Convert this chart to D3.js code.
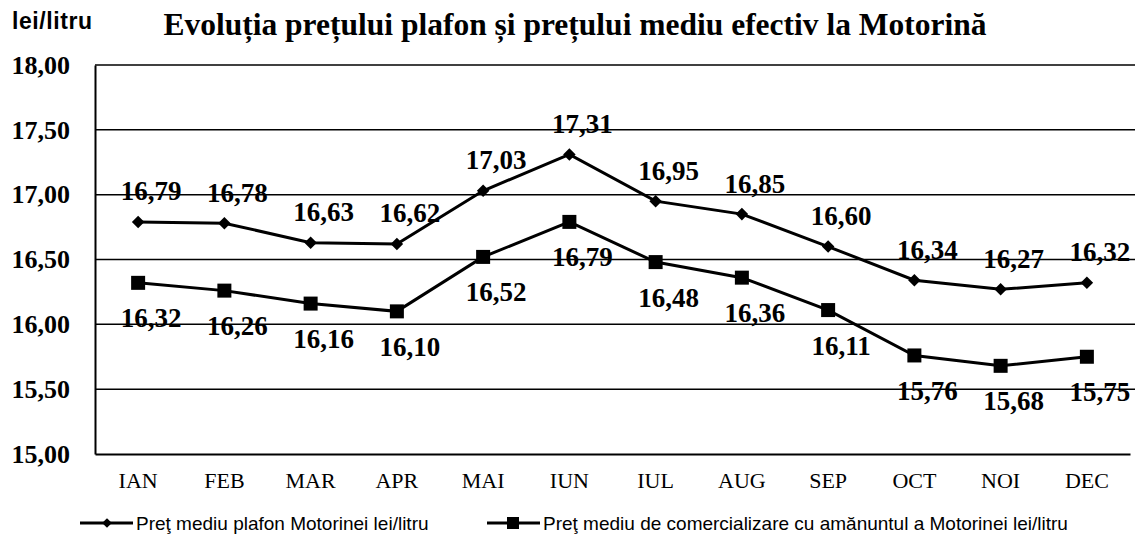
<!DOCTYPE html>
<html>
<head>
<meta charset="utf-8">
<script src="https://cdn.jsdelivr.net/npm/d3@7"></script>
<style>
  body { margin: 0; background: #fff; }
  svg { display: block; }
</style>
</head>
<body>
<div id="chart"></div>
<script>
// months on the x axis
const months = ["IAN", "FEB", "MAR", "APR", "MAI", "IUN", "IUL", "AUG", "SEP", "OCT", "NOI", "DEC"];
// pret mediu plafon (diamonds)
const plafon = [16.79, 16.78, 16.63, 16.62, 17.03, 17.31, 16.95, 16.85, 16.60, 16.34, 16.27, 16.32];
// pret mediu de comercializare cu amanuntul (squares)
const mediu = [16.32, 16.26, 16.16, 16.10, 16.52, 16.79, 16.48, 16.36, 16.11, 15.76, 15.68, 15.75];
const yTicks = [15, 15.5, 16, 16.5, 17, 17.5, 18];
const seriesNames = [
    "Preţ mediu plafon Motorinei lei/litru",
    "Preţ mediu de comercializare cu amănuntul a Motorinei lei/litru"
];

const width = 1139, height = 542;
const margin = {top: 65, right: 9, bottom: 88, left: 95};

const svg = d3.select("#chart").append("svg")
    .attr("width", width)
    .attr("height", height);

const x = d3.scaleBand()
    .domain(months)
    .range([margin.left, width - margin.right]);

const y = d3.scaleLinear()
    .domain([15, 18])
    .range([height - margin.bottom, margin.top]);

const fmt = v => d3.format(".2f")(v).replace(".", ",");
const serif = "'Liberation Serif', 'Times New Roman', serif";
const sans = "'Liberation Sans', Arial, sans-serif";

// gridlines
svg.append("g").selectAll("line")
    .data(yTicks.filter(d => d > 15))
    .enter().append("line")
    .attr("x1", margin.left)
    .attr("x2", width - margin.right + 5)
    .attr("y1", d => y(d))
    .attr("y2", d => y(d))
    .attr("stroke", "#000")
    .attr("stroke-width", 1.5);

// y axis
const yAxis = svg.append("g")
    .attr("transform", "translate(" + margin.left + ",0)")
    .call(d3.axisLeft(y).tickValues(yTicks).tickFormat(fmt).tickSize(0).tickPadding(25));
yAxis.select(".domain").attr("stroke", "#000").attr("stroke-width", 2);
yAxis.selectAll("text")
    .attr("font-family", serif)
    .attr("font-weight", "bold")
    .attr("font-size", 26)
    .attr("fill", "#000");

// x axis
const xAxis = svg.append("g")
    .attr("transform", "translate(0," + y(15) + ")")
    .call(d3.axisBottom(x).tickSize(0).tickPadding(18));
xAxis.select(".domain").attr("stroke", "#000").attr("stroke-width", 2);
xAxis.selectAll("text")
    .attr("font-family", serif)
    .attr("font-size", 22)
    .attr("fill", "#000");

// lines
const line = d3.line()
    .x((d, i) => x(months[i]) + x.bandwidth() / 2)
    .y(d => y(d));

[plafon, mediu].forEach(function(data) {
    svg.append("path")
        .datum(data)
        .attr("fill", "none")
        .attr("stroke", "#000")
        .attr("stroke-width", 3)
        .attr("d", line);
});

// markers
svg.append("g").selectAll("path")
    .data(plafon)
    .enter().append("path")
    .attr("d", d3.symbol().type(d3.symbolDiamond2).size(100))
    .attr("transform", (d, i) => "translate(" + (x(months[i]) + x.bandwidth() / 2) + "," + y(d) + ")")
    .attr("fill", "#000");

svg.append("g").selectAll("rect")
    .data(mediu)
    .enter().append("rect")
    .attr("x", (d, i) => x(months[i]) + x.bandwidth() / 2 - 7)
    .attr("y", d => y(d) - 7)
    .attr("width", 14)
    .attr("height", 14)
    .attr("fill", "#000");

// value labels
svg.append("g").selectAll("text")
    .data(plafon)
    .enter().append("text")
    .attr("x", (d, i) => x(months[i]) + x.bandwidth() / 2 + 13)
    .attr("y", d => y(d) - 31)
    .attr("dy", "0.35em")
    .attr("text-anchor", "middle")
    .attr("font-family", serif)
    .attr("font-weight", "bold")
    .attr("font-size", 27)
    .text(fmt);

svg.append("g").selectAll("text")
    .data(mediu)
    .enter().append("text")
    .attr("x", (d, i) => x(months[i]) + x.bandwidth() / 2 + 13)
    .attr("y", d => y(d) + 35)
    .attr("dy", "0.35em")
    .attr("text-anchor", "middle")
    .attr("font-family", serif)
    .attr("font-weight", "bold")
    .attr("font-size", 27)
    .text(fmt);

// title and unit
svg.append("text")
    .attr("x", 575)
    .attr("y", 35)
    .attr("text-anchor", "middle")
    .attr("font-family", serif)
    .attr("font-weight", "bold")
    .attr("font-size", 31.5)
    .text("Evoluția prețului plafon și prețului mediu efectiv la Motorină");

svg.append("text")
    .attr("x", 12)
    .attr("y", 29)
    .attr("font-family", sans)
    .attr("font-weight", "bold")
    .attr("font-size", 23)
    .attr("textLength", 80)
    .text("lei/litru");

// legend
const legendY = 523;
const legendX = [80, 487];
const legend = svg.append("g").selectAll("g")
    .data(seriesNames)
    .enter().append("g")
    .attr("transform", (d, i) => "translate(" + legendX[i] + "," + legendY + ")");

legend.append("line")
    .attr("x1", 0).attr("x2", 53)
    .attr("y1", 0).attr("y2", 0)
    .attr("stroke", "#000")
    .attr("stroke-width", 3);

legend.filter((d, i) => i === 0).append("path")
    .attr("d", d3.symbol().type(d3.symbolDiamond2).size(60))
    .attr("transform", "translate(27,0)");

legend.filter((d, i) => i === 1).append("rect")
    .attr("x", 20).attr("y", -6)
    .attr("width", 12).attr("height", 12);

legend.append("text")
    .attr("x", 56)
    .attr("dy", "0.35em")
    .attr("font-family", sans)
    .attr("font-size", 19)
    .text(d => d);
</script>
</body>
</html>
